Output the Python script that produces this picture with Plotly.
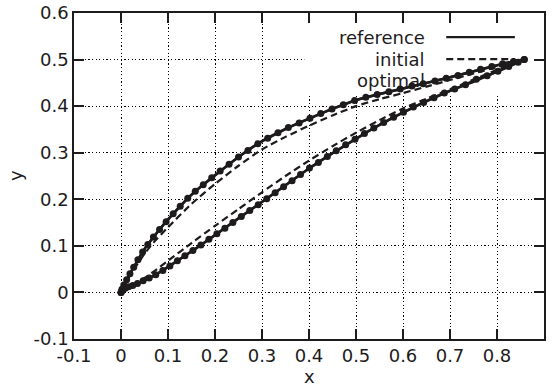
import plotly.graph_objects as go

# ---------------- data ----------------
# reference shape (upper surface LE->TE, lower surface LE->TE)
ref_upper_x = [0.0, 0.003, 0.008, 0.015, 0.022, 0.032, 0.049, 0.07, 0.1, 0.15, 0.2, 0.25, 0.3,
               0.35, 0.4, 0.45, 0.5, 0.55, 0.6, 0.65, 0.7, 0.75, 0.8, 0.83, 0.858]
ref_upper_y = [0.0, 0.010, 0.020, 0.033, 0.045, 0.063, 0.092, 0.120, 0.157, 0.210, 0.252, 0.291, 0.325,
               0.351, 0.373, 0.394, 0.413, 0.426, 0.438, 0.450, 0.462, 0.475, 0.488, 0.495, 0.500]
ref_lower_x = [0.0, 0.002, 0.006, 0.012, 0.02, 0.03, 0.045, 0.0625, 0.1, 0.15, 0.2, 0.25, 0.3,
               0.35, 0.4, 0.45, 0.5, 0.55, 0.6, 0.65, 0.7, 0.75, 0.8, 0.83, 0.858]
ref_lower_y = [0.0, 0.004, 0.007, 0.010, 0.013, 0.017, 0.024, 0.031, 0.055, 0.088, 0.123, 0.159, 0.194,
               0.230, 0.266, 0.299, 0.330, 0.360, 0.386, 0.411, 0.433, 0.452, 0.474, 0.487, 0.500]

# initial shape
ini_upper_x = [0.0, 0.003, 0.008, 0.015, 0.03, 0.05, 0.07, 0.1, 0.15, 0.2, 0.25, 0.3, 0.35, 0.4,
               0.45, 0.5, 0.55, 0.6, 0.65, 0.7, 0.75, 0.8, 0.83, 0.858]
ini_upper_y = [0.0, 0.009, 0.018, 0.030, 0.053, 0.083, 0.108, 0.140, 0.190, 0.233, 0.272, 0.307, 0.334, 0.358,
               0.380, 0.400, 0.415, 0.428, 0.442, 0.456, 0.470, 0.484, 0.492, 0.500]
ini_lower_x = [0.0, 0.003, 0.01, 0.02, 0.03, 0.05, 0.07, 0.1, 0.15, 0.2, 0.25, 0.3, 0.35, 0.4,
               0.45, 0.5, 0.55, 0.6, 0.65, 0.7, 0.75, 0.8, 0.83, 0.858]
ini_lower_y = [0.0, 0.004, 0.008, 0.013, 0.019, 0.031, 0.045, 0.068, 0.106, 0.143, 0.179, 0.215, 0.250, 0.283,
               0.314, 0.343, 0.370, 0.395, 0.416, 0.436, 0.457, 0.478, 0.489, 0.500]

# optimal shape (design points)
opt_upper_x = [0.0, 0.002, 0.006, 0.012, 0.019, 0.027, 0.036, 0.046, 0.057, 0.069, 0.082, 0.096, 0.111,
               0.126, 0.142, 0.158, 0.175, 0.193, 0.211, 0.230, 0.250, 0.270, 0.291, 0.312, 0.334, 0.356,
               0.379, 0.402, 0.425, 0.449, 0.473, 0.497, 0.521, 0.545, 0.570, 0.594, 0.619, 0.643, 0.668,
               0.692, 0.717, 0.741, 0.765, 0.789, 0.812, 0.835, 0.858]
opt_upper_y = [0.0, 0.007, 0.016, 0.027, 0.040, 0.054, 0.070, 0.087, 0.103, 0.119, 0.135, 0.152, 0.169,
               0.185, 0.202, 0.217, 0.231, 0.246, 0.261, 0.275, 0.291, 0.305, 0.319, 0.331, 0.343, 0.354,
               0.364, 0.374, 0.384, 0.394, 0.403, 0.412, 0.419, 0.425, 0.431, 0.437, 0.443, 0.448, 0.454,
               0.460, 0.466, 0.473, 0.479, 0.485, 0.491, 0.496, 0.500]
opt_lower_x = [0.0, 0.001, 0.004, 0.009, 0.016, 0.025, 0.035, 0.047, 0.060, 0.074, 0.089, 0.104, 0.120,
               0.136, 0.153, 0.170, 0.187, 0.204, 0.221, 0.238, 0.256, 0.274, 0.292, 0.310, 0.328, 0.346,
               0.364, 0.382, 0.401, 0.420, 0.439, 0.458, 0.478, 0.498, 0.518, 0.538, 0.559, 0.580, 0.601,
               0.622, 0.644, 0.666, 0.688, 0.710, 0.733, 0.756, 0.779, 0.802, 0.825, 0.845, 0.858]
opt_lower_y = [0.0, 0.002, 0.006, 0.009, 0.012, 0.015, 0.019, 0.025, 0.031, 0.038, 0.047, 0.057, 0.068,
               0.079, 0.090, 0.102, 0.114, 0.126, 0.138, 0.150, 0.163, 0.176, 0.188, 0.201, 0.214, 0.227,
               0.240, 0.253, 0.267, 0.279, 0.292, 0.304, 0.317, 0.329, 0.341, 0.353, 0.365, 0.376, 0.387,
               0.398, 0.408, 0.418, 0.428, 0.437, 0.446, 0.458, 0.465, 0.475, 0.485, 0.494, 0.500]

series_names = ["reference", "initial", "optimal"]
x_ticks = [-0.1, 0.0, 0.1, 0.2, 0.3, 0.4, 0.5, 0.6, 0.7, 0.8, 0.9]
x_tick_labels = ["-0.1", "0", "0.1", "0.2", "0.3", "0.4", "0.5", "0.6", "0.7", "0.8", "0.9"]
y_ticks = [-0.1, 0.0, 0.1, 0.2, 0.3, 0.4, 0.5, 0.6]
y_tick_labels = ["-0.1", "0", "0.1", "0.2", "0.3", "0.4", "0.5", "0.6"]

# ---------------- style ----------------
INK = "#1e1b1c"
FONT = "DejaVu Sans"
W, H = 558, 386
L, R, T, B = 74, 544, 13, 339


def loop(ux, uy, lx, ly):
    # go along upper surface to TE, come back along lower surface to LE
    return list(ux) + list(reversed(lx)), list(uy) + list(reversed(ly))


fig = go.Figure()

ix, iy = loop(ini_upper_x, ini_upper_y, ini_lower_x, ini_lower_y)
fig.add_trace(go.Scatter(x=ix, y=iy, mode="lines", name=series_names[1],
                         line=dict(color=INK, width=2.2, dash="7px,4px", shape="spline", smoothing=0.6)))

rx, ry = loop(ref_upper_x, ref_upper_y, ref_lower_x, ref_lower_y)
fig.add_trace(go.Scatter(x=rx, y=ry, mode="lines", name=series_names[0],
                         line=dict(color=INK, width=2.5, shape="spline", smoothing=0.6)))

ox, oy = loop(opt_upper_x, opt_upper_y, opt_lower_x, opt_lower_y)
fig.add_trace(go.Scatter(x=ox, y=oy, mode="lines+markers", name=series_names[2],
                         line=dict(color=INK, width=2.5),
                         marker=dict(color=INK, size=7, line=dict(width=0))))

# key box (erases grid like gnuplot key)
fig.add_shape(type="rect", xref="x", yref="y", x0=0.39, x1=0.9, y0=0.427, y1=0.6,
              fillcolor="white", line=dict(width=0), layer="between")

# key entries
key_rows = [0.548, 0.501, 0.454]
for name, yk in zip(series_names, key_rows):
    fig.add_annotation(x=0.650, y=yk, xref="x", yref="y", text=name, showarrow=False,
                       xanchor="right", yanchor="middle", font=dict(family=FONT, size=18, color=INK))
fig.add_shape(type="line", xref="x", yref="y", x0=0.692, x1=0.838, y0=key_rows[0], y1=key_rows[0],
              line=dict(color=INK, width=2.2))
fig.add_shape(type="line", xref="x", yref="y", x0=0.692, x1=0.838, y0=key_rows[1], y1=key_rows[1],
              line=dict(color=INK, width=2.2, dash="7px,4px"))

axis_common = dict(showgrid=True, gridcolor="#000000", gridwidth=1.2, griddash="1.2px,2.4px",
                   zeroline=False, showline=True, linecolor=INK, linewidth=1.6, mirror="ticks",
                   ticks="inside", ticklen=10, tickwidth=1.6, tickcolor=INK,
                   tickfont=dict(family=FONT, size=18, color=INK), tickmode="array")

fig.update_xaxes(range=[-0.1, 0.9], tickvals=x_ticks, ticktext=x_tick_labels, **axis_common)
fig.update_yaxes(range=[-0.1, 0.6], tickvals=y_ticks, ticktext=y_tick_labels, **axis_common)

# axis titles
fig.add_annotation(x=((L + R) / 2 - L) / (R - L), y=(B - 376) / (B - T), xref="paper", yref="paper",
                   text="x", showarrow=False, xanchor="center", yanchor="middle",
                   font=dict(family=FONT, size=18, color=INK))
fig.add_annotation(x=(15 - L) / (R - L), y=(B - 176) / (B - T), xref="paper", yref="paper",
                   text="y", showarrow=False, xanchor="center", yanchor="middle", textangle=-90,
                   font=dict(family=FONT, size=18, color=INK))

fig.update_layout(width=W, height=H, margin=dict(l=L, r=W - R, t=T, b=H - B, autoexpand=False),
                  plot_bgcolor="white", paper_bgcolor="white", showlegend=False,
                  font=dict(family=FONT, size=18, color=INK))

fig.write_html("out.html")
